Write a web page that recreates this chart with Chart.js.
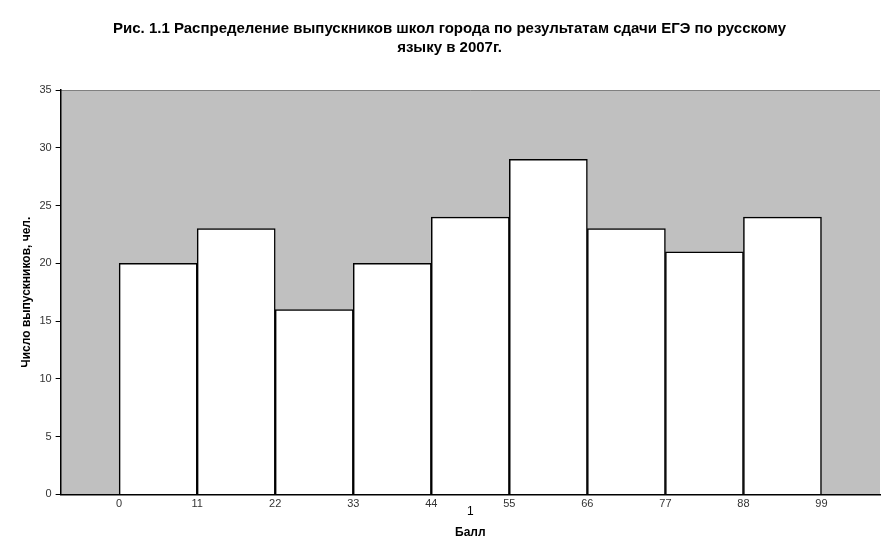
<!DOCTYPE html>
<html>
<head>
<meta charset="utf-8">
<script src="https://cdn.jsdelivr.net/npm/chart.js@4"></script>
<style>
  body { margin: 0; background: #fff; }
  #wrap { width: 894px; height: 559px; }
</style>
</head>
<body>
<div id="wrap"><canvas id="HistChart"></canvas></div>
<script>
// interval starts (score), width of each interval, counts
const binStarts = [0, 11, 22, 33, 44, 55, 66, 77, 88];
const binWidth = 11;
const counts = [20, 23, 16, 20, 24, 29, 23, 21, 24];
const xTickValues = [0, 11, 22, 33, 44, 55, 66, 77, 88, 99];
const yTickValues = [0, 5, 10, 15, 20, 25, 30, 35];

const titleLines = ['Рис. 1.1 Распределение выпускников школ города по результатам сдачи ЕГЭ по русскому', 'языку в 2007г.'];
const xTitle = 'Балл';
const yTitle = 'Число выпускников, чел.';
const seriesName = '1';

const plotBackground = {
  id: 'plotBackground',
  beforeDraw(chart) {
    const { ctx, chartArea: a } = chart;
    ctx.save();
    ctx.fillStyle = '#c0c0c0';
    ctx.fillRect(a.left, a.top, a.right - a.left, a.bottom - a.top);
    ctx.strokeStyle = '#808080';
    ctx.lineWidth = 1;
    ctx.beginPath();
    ctx.moveTo(a.left, a.top + 0.5);
    ctx.lineTo(a.right, a.top + 0.5);
    ctx.stroke();
    ctx.restore();
  },
  afterDraw(chart) {
    const { ctx, chartArea: a } = chart;
    ctx.save();
    ctx.fillStyle = '#000';
    ctx.font = '12px "Liberation Sans", Arial, sans-serif';
    ctx.textAlign = 'center';
    ctx.textBaseline = 'middle';
    ctx.fillText(seriesName, (a.left + a.right) / 2, a.bottom + 17);
    ctx.restore();
  }
};

const ctx = document.getElementById('HistChart').getContext('2d');
new Chart(ctx, {
  type: 'bar',
  data: {
    datasets: [{
      data: binStarts.map((s, i) => ({ x: s + binWidth / 2, y: counts[i] })),
      backgroundColor: '#ffffff',
      borderColor: '#000000',
      borderWidth: 1.5,
      barPercentage: 1,
      categoryPercentage: 1
    }]
  },
  options: {
    responsive: true,
    maintainAspectRatio: false,
    animation: false,
    layout: { padding: { left: 19, right: 14, top: 8, bottom: 19 } },
    plugins: {
      legend: { display: false },
      tooltip: { enabled: false },
      title: {
        display: true,
        text: titleLines,
        color: '#000',
        font: { family: '"Liberation Sans", Arial, sans-serif', size: 15, weight: 'bold', lineHeight: 1.3 },
        padding: { top: 11, bottom: 32 }
      }
    },
    scales: {
      x: {
        type: 'linear',
        offset: false,
        min: -8.25,
        max: 107.25,
        afterBuildTicks: (axis) => { axis.ticks = xTickValues.map(v => ({ value: v })); },
        grid: { display: false, drawTicks: false, offset: false },
        border: { color: '#000', width: 1.5 },
        ticks: {
          color: '#333',
          padding: 3,
          maxRotation: 0,
          font: { family: '"Liberation Sans", Arial, sans-serif', size: 11 }
        },
        title: {
          display: true,
          text: xTitle,
          color: '#000',
          font: { family: '"Liberation Sans", Arial, sans-serif', size: 12, weight: 'bold' },
          padding: { top: 12, bottom: 0 }
        }
      },
      y: {
        min: 0,
        max: 35,
        afterBuildTicks: (axis) => { axis.ticks = yTickValues.map(v => ({ value: v })); },
        grid: { drawOnChartArea: false, tickLength: 5, color: '#000' },
        border: { color: '#000', width: 1.5 },
        ticks: {
          color: '#333',
          padding: 4,
          font: { family: '"Liberation Sans", Arial, sans-serif', size: 11 }
        },
        title: {
          display: true,
          text: yTitle,
          color: '#000',
          font: { family: '"Liberation Sans", Arial, sans-serif', size: 12, weight: 'bold' },
          padding: { top: 0, bottom: 2 }
        }
      }
    }
  },
  plugins: [plotBackground]
});
</script>
</body>
</html>
